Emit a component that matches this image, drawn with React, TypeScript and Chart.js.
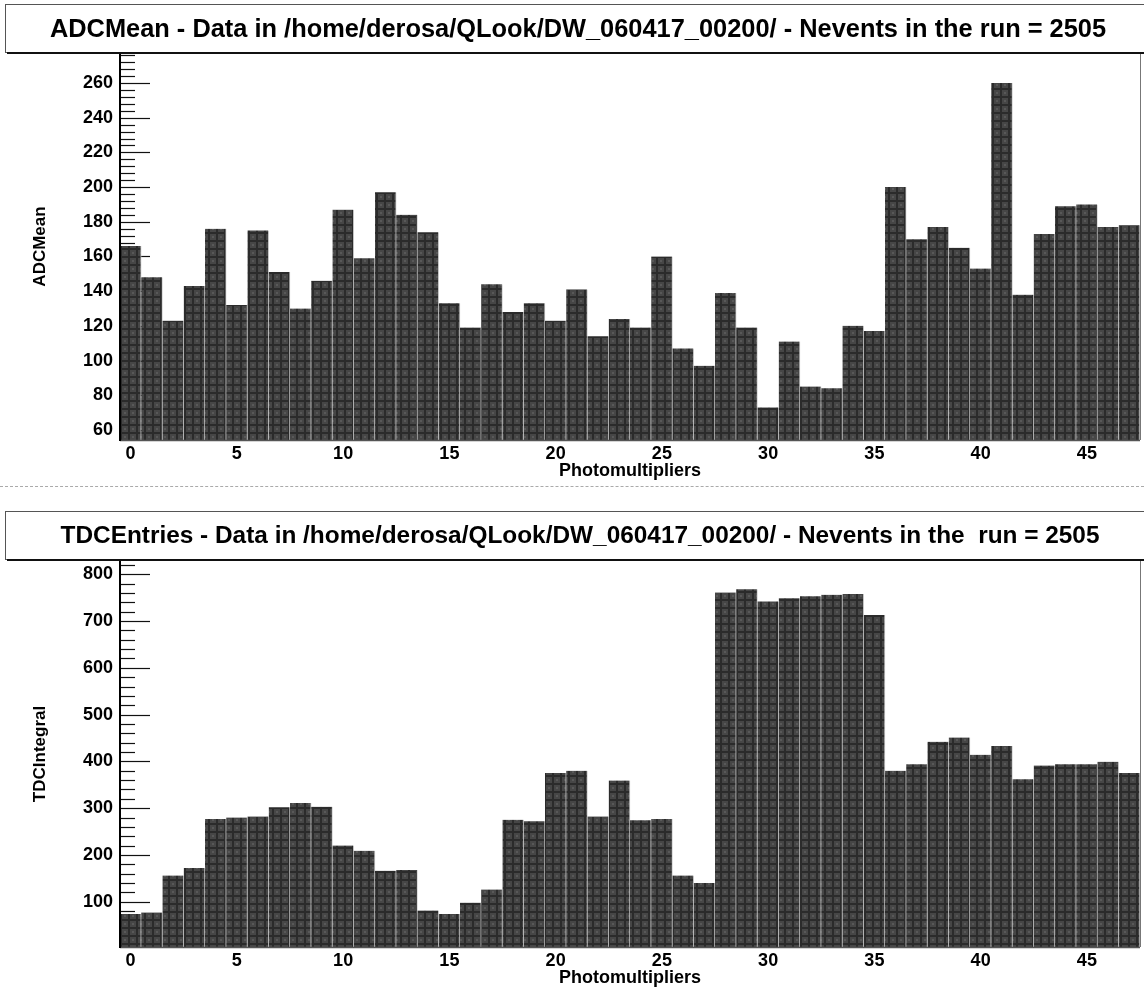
import React, { useEffect, useRef } from "react";
import { Chart, registerables } from "chart.js";
Chart.register(...registerables);

const bins = [
  "0","1","2","3","4","5","6","7","8","9","10","11","12","13","14","15",
  "16","17","18","19","20","21","22","23","24","25","26","27","28","29","30","31",
  "32","33","34","35","36","37","38","39","40","41","42","43","44","45","46","47",
];

const adcMean = [
  166, 148, 123, 143, 176, 132, 175, 151, 130, 146, 187, 159, 197, 184, 174, 133,
  119, 144, 128, 133, 123, 141, 114, 124, 119, 160, 107, 97, 139, 119, 73, 111,
  85, 84, 120, 117, 200, 170, 177, 165, 153, 260, 138, 173, 189, 190, 177, 178,
];

const tdcEntries = [
  74, 77, 156, 172, 277, 280, 282, 302, 311, 303, 220, 209, 166, 168, 81, 74,
  98, 126, 275, 272, 375, 380, 282, 359, 274, 277, 156, 140, 761, 768, 742, 749,
  753, 756, 758, 713, 380, 394, 442, 451, 414, 433, 362, 391, 394, 394, 399, 375,
];

const adcTicks = [60, 80, 100, 120, 140, 160, 180, 200, 220, 240, 260];
const tdcTicks = [100, 200, 300, 400, 500, 600, 700, 800];

const adcTitle =
  "ADCMean - Data in /home/derosa/QLook/DW_060417_00200/ - Nevents in the run = 2505";
const tdcTitle =
  "TDCEntries - Data in /home/derosa/QLook/DW_060417_00200/ - Nevents in the  run = 2505";

const FONT = "'Liberation Sans', Arial, Helvetica, sans-serif";

function makePattern(): CanvasPattern | string {
  const c = document.createElement("canvas");
  c.width = 8;
  c.height = 8;
  const g = c.getContext("2d");
  if (!g) return "#3a3a3a";
  g.fillStyle = "#464646";
  g.fillRect(0, 0, 8, 8);
  g.fillStyle = "#2b2b2b";
  g.fillRect(0, 0, 8, 2);
  g.fillRect(0, 0, 2, 8);
  g.fillStyle = "#585858";
  g.fillRect(4, 4, 2, 2);
  const p = g.createPattern(c, "repeat");
  return p || "#3a3a3a";
}

const rootFrame = {
  id: "rootFrame",
  beforeDatasetsDraw(chart: any, _args: any, opts: any) {
    const { ctx, chartArea: a, scales } = chart;
    const y = scales.y;
    ctx.save();
    ctx.strokeStyle = "#111";
    ctx.lineWidth = 1.2;
    const first = opts.majors[0] - Math.floor((opts.majors[0] - y.min) / opts.minorStep) * opts.minorStep;
    for (let v = first; v <= y.max + 1e-9; v += opts.minorStep) {
      const py = Math.round(y.getPixelForValue(v)) + 0.5;
      const major = opts.majors.some((m: number) => Math.abs(m - v) < 1e-6);
      ctx.beginPath();
      ctx.moveTo(a.left, py);
      ctx.lineTo(a.left + (major ? 30 : 15), py);
      ctx.stroke();
    }
    ctx.restore();
  },
  afterDatasetsDraw(chart: any) {
    const { ctx, chartArea: a } = chart;
    ctx.save();
    ctx.strokeStyle = "#777";
    ctx.lineWidth = 1;
    ctx.beginPath();
    ctx.moveTo(a.right + 0.5, a.top);
    ctx.lineTo(a.right + 0.5, a.bottom);
    ctx.stroke();
    ctx.strokeStyle = "#555";
    ctx.lineWidth = 1.5;
    ctx.beginPath();
    ctx.moveTo(a.left, a.bottom + 0.5);
    ctx.lineTo(a.right, a.bottom + 0.5);
    ctx.stroke();
    ctx.strokeStyle = "#000";
    ctx.lineWidth = 2;
    ctx.beginPath();
    ctx.moveTo(a.left, a.top);
    ctx.lineTo(a.left, a.bottom + 1);
    ctx.stroke();
    ctx.restore();
  },
  afterDraw(chart: any, _args: any, opts: any) {
    const { ctx } = chart;
    const { boxTop, boxBottom, text, textY, textX, textSize } = opts;
    ctx.save();
    ctx.fillStyle = "#fff";
    ctx.fillRect(5, boxTop, 1200, boxBottom - boxTop);
    ctx.strokeStyle = "#555";
    ctx.lineWidth = 1;
    ctx.strokeRect(5.5, boxTop + 0.5, 1200, boxBottom - boxTop);
    ctx.fillStyle = "#111";
    ctx.fillRect(7, boxBottom, 1200, 2);
    ctx.fillStyle = "#000";
    ctx.font = `bold ${textSize}px ${FONT}`;
    ctx.textAlign = "center";
    ctx.textBaseline = "middle";
    ctx.fillText(text, textX, textY);
    ctx.restore();
  },
};

type Cfg = {
  values: number[];
  ticks: number[];
  minorStep: number;
  min: number;
  max: number;
  yTitle: string;
  title: string;
  titleSize: number;
  titleX: number;
  padTop: number;
  xAxisH: number;
  xTitlePad: number;
  boxTop: number;
  boxBottom: number;
  textY: number;
  height: number;
};

function HistChart({ cfg }: { cfg: Cfg }) {
  const ref = useRef<HTMLCanvasElement | null>(null);
  useEffect(() => {
    if (!ref.current) return;
    const pattern = makePattern();
    const chart = new Chart(ref.current, {
      type: "bar",
      data: {
        labels: bins,
        datasets: [
          {
            data: cfg.values,
            backgroundColor: pattern as any,
            borderColor: "rgba(205,205,205,0.9)",
            borderWidth: { top: 0, right: 1, bottom: 0, left: 0 },
            borderSkipped: false,
            barPercentage: 1,
            categoryPercentage: 1,
          },
        ],
      },
      options: {
        animation: false,
        responsive: false,
        maintainAspectRatio: false,
        layout: { padding: { top: cfg.padTop, right: 4, left: 0, bottom: 0 } },
        plugins: {
          legend: { display: false },
          tooltip: { enabled: false },
          title: { display: false },
          rootFrame: {
            majors: cfg.ticks,
            minorStep: cfg.minorStep,
            boxTop: cfg.boxTop,
            boxBottom: cfg.boxBottom,
            text: cfg.title,
            textY: cfg.textY,
            textX: cfg.titleX,
            textSize: cfg.titleSize,
          },
        } as any,
        scales: {
          x: {
            type: "category",
            offset: true,
            grid: { display: false, drawTicks: false },
            border: { display: false },
            ticks: {
              autoSkip: false,
              maxRotation: 0,
              minRotation: 0,
              padding: 3,
              color: "#000",
              font: { family: FONT, size: 18, weight: "bold" },
              callback: (_v: any, i: number) => (i % 5 === 0 ? bins[i] : ""),
            },
            title: {
              display: true,
              text: "Photomultipliers",
              color: "#000",
              font: { family: FONT, size: 18, weight: "bold" },
              padding: { top: 0, bottom: cfg.xTitlePad },
            },
            afterFit: (s: any) => {
              s.height = cfg.xAxisH;
            },
          },
          y: {
            type: "linear",
            min: cfg.min,
            max: cfg.max,
            grid: { display: false, drawTicks: false },
            border: { display: false },
            afterBuildTicks: (s: any) => {
              s.ticks = cfg.ticks.map((v) => ({ value: v }));
            },
            ticks: {
              padding: 7,
              color: "#000",
              font: { family: FONT, size: 18, weight: "bold" },
            },
            title: {
              display: true,
              text: cfg.yTitle,
              color: "#000",
              font: { family: FONT, size: 17, weight: "bold" },
              padding: { top: 30, bottom: 0 },
            },
            afterFit: (s: any) => {
              s.width = 120;
            },
          },
        },
      },
      plugins: [rootFrame as any],
    });
    return () => chart.destroy();
  }, [cfg]);
  return <canvas ref={ref} width={1144} height={cfg.height} style={{ display: "block" }} />;
}

const topCfg: Cfg = {
  values: adcMean,
  ticks: adcTicks,
  minorStep: 4,
  min: 54.2,
  max: 277.3,
  yTitle: "ADCMean",
  title: adcTitle,
  titleSize: 25.4,
  titleX: 578,
  padTop: 53,
  xAxisH: 47,
  xTitlePad: 5,
  boxTop: 4,
  boxBottom: 52,
  textY: 30,
  height: 487,
};

const bottomCfg: Cfg = {
  values: tdcEntries,
  ticks: tdcTicks,
  minorStep: 20,
  min: 3.2,
  max: 828.4,
  yTitle: "TDCIntegral",
  title: tdcTitle,
  titleSize: 24.4,
  titleX: 580,
  padTop: 74,
  xAxisH: 42,
  xTitlePad: 0,
  boxTop: 24,
  boxBottom: 72,
  textY: 49,
  height: 502,
};

export default function App() {
  return (
    <div style={{ position: "absolute", left: 0, top: 0, width: 1144, height: 989, background: "#fff" }}>
      <HistChart cfg={topCfg} />
      <div style={{ position: "absolute", left: 0, top: 486, width: 1144, borderTop: "1px dashed #aaa" }} />
      <HistChart cfg={bottomCfg} />
    </div>
  );
}
